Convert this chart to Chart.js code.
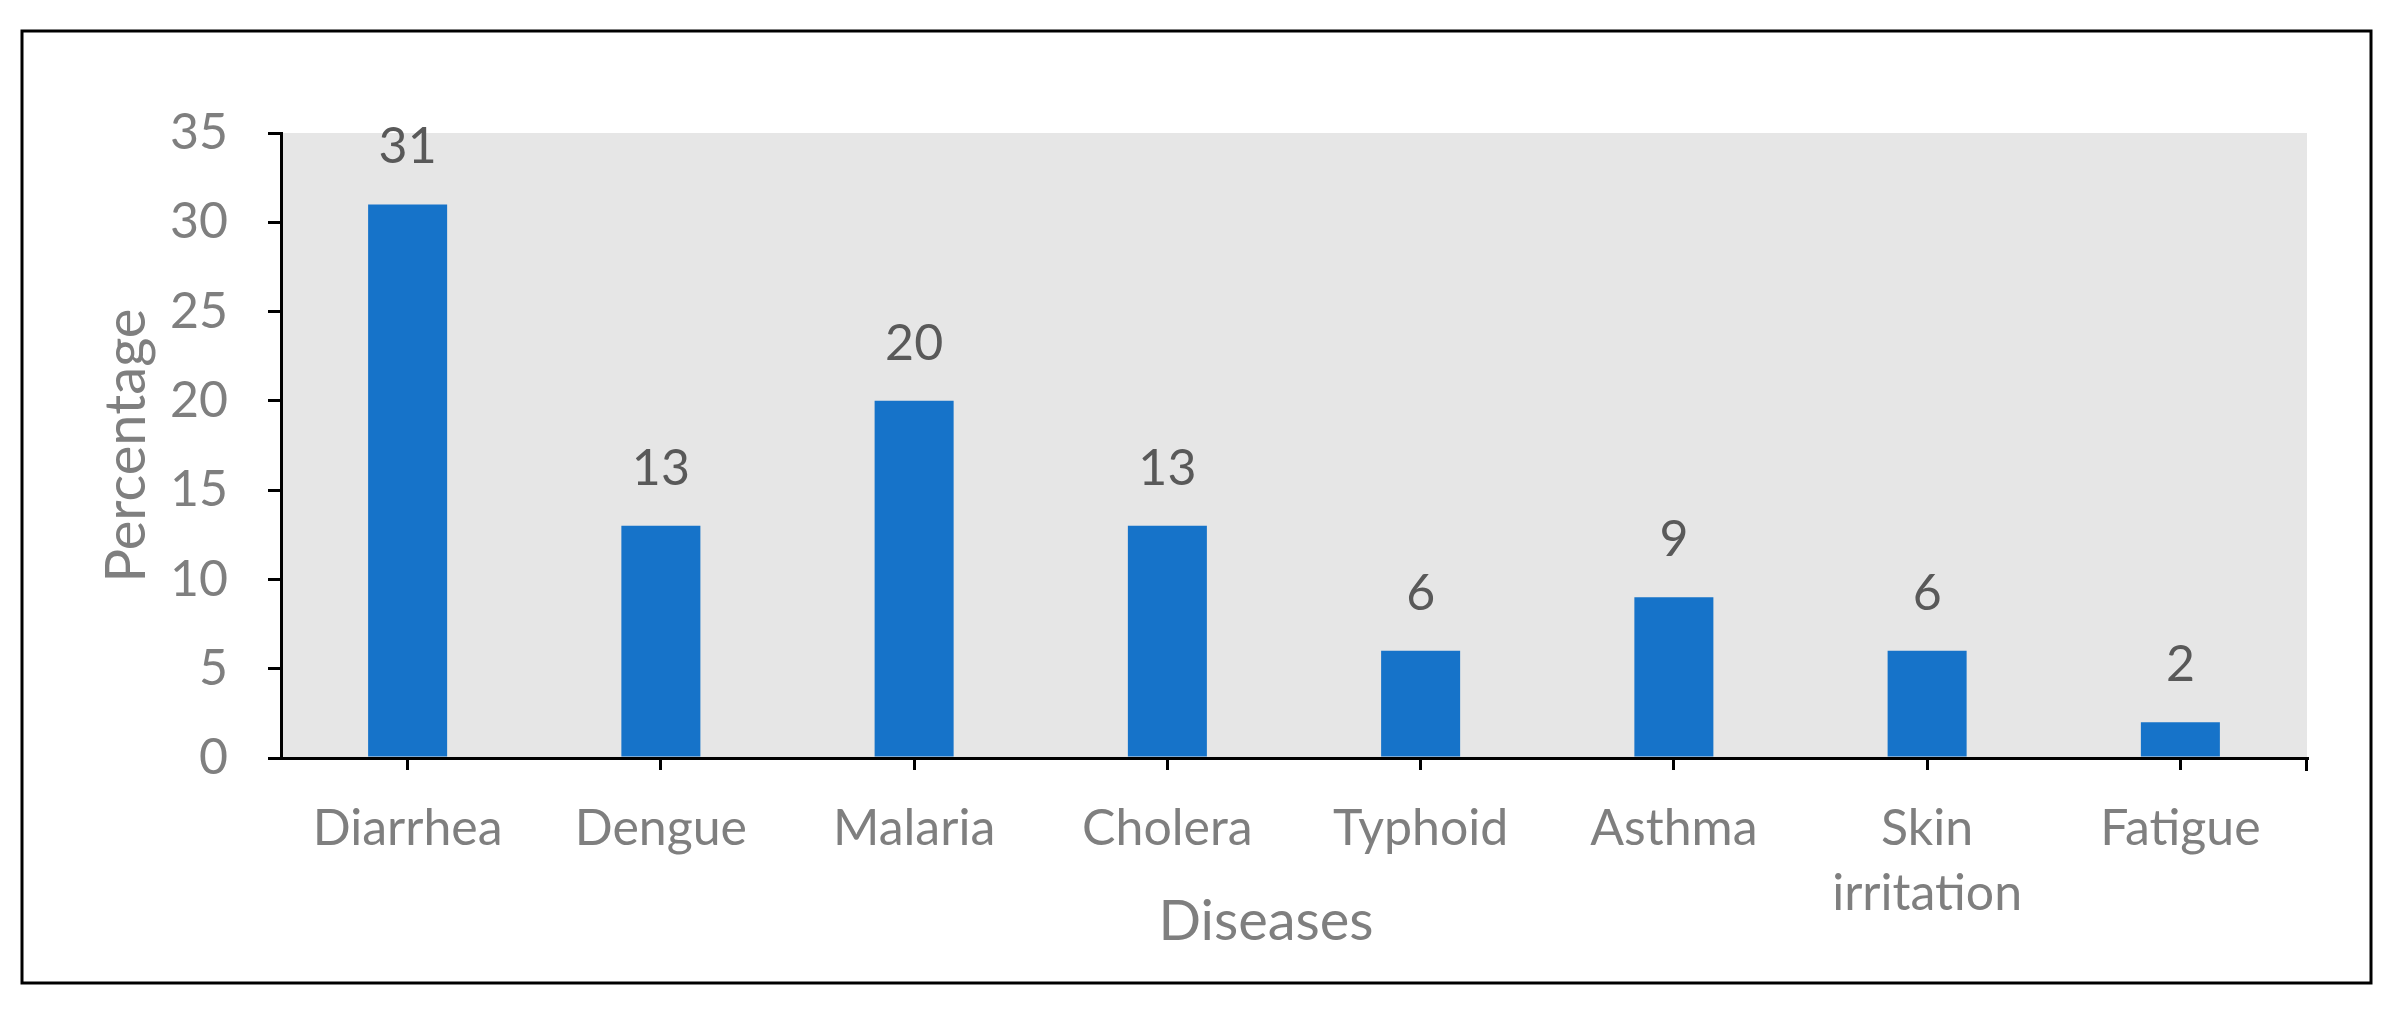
<!DOCTYPE html>
<html>
<head>
<meta charset="utf-8">
<script src="https://cdn.jsdelivr.net/npm/chart.js@4.4.1/dist/chart.umd.min.js"></script>
<style>
  html, body { margin: 0; padding: 0; background: #ffffff; }
  #wrap { width: 2399px; height: 1013px; position: relative; }
  canvas { display: block; }
</style>
</head>
<body>
<div id="wrap"><canvas id="c" width="2399" height="1013"></canvas></div>
<script>
const categories = ['Diarrhea', 'Dengue', 'Malaria', 'Cholera', 'Typhoid', 'Asthma', ['Skin', 'irritation'], 'Fatigue'];
const percentages = [31, 13, 20, 13, 6, 9, 6, 2];
const yTicks = [0, 5, 10, 15, 20, 25, 30, 35];
const xTitle = 'Diseases';
const yTitle = 'Percentage';

const FONT = 'Lato';
const TICK_GRAY = '#7f7f7f';
const LABEL_GRAY = '#595959';

const framePlugin = {
  id: 'frame',
  beforeDraw(chart) {
    const ctx = chart.ctx;
    const a = chart.chartArea;
    ctx.save();
    ctx.fillStyle = '#ffffff';
    ctx.fillRect(0, 0, chart.width, chart.height);
    ctx.strokeStyle = '#000000';
    ctx.lineWidth = 3;
    ctx.strokeRect(22, 31, 2349, 952);
    ctx.fillStyle = '#e6e6e6';
    ctx.fillRect(a.left, a.top, a.right - a.left, a.bottom - a.top);
    ctx.restore();
  },
  afterDraw(chart) {
    const ctx = chart.ctx;
    const xs = chart.scales.x;
    ctx.save();
    ctx.strokeStyle = '#000000';
    ctx.lineWidth = 3;
    ctx.beginPath();
    ctx.moveTo(xs.right - 0.5, xs.top);
    ctx.lineTo(xs.right - 0.5, xs.top + 13);
    ctx.stroke();
    // x-axis title (slightly left of the axis centre, as in the original)
    ctx.font = '56px ' + FONT;
    ctx.fillStyle = TICK_GRAY;
    ctx.textAlign = 'center';
    ctx.textBaseline = 'alphabetic';
    ctx.fillText(xTitle, (xs.left + xs.right) / 2 - 28, 940);
    ctx.restore();
  }
};

const valueLabels = {
  id: 'valueLabels',
  afterDatasetsDraw(chart) {
    const ctx = chart.ctx;
    const meta = chart.getDatasetMeta(0);
    ctx.save();
    ctx.font = '50px ' + FONT;
    ctx.fillStyle = LABEL_GRAY;
    ctx.textAlign = 'center';
    ctx.textBaseline = 'alphabetic';
    meta.data.forEach((bar, i) => {
      ctx.fillText(String(chart.data.datasets[0].data[i]), bar.x, bar.y - 41);
    });
    ctx.restore();
  }
};

function build() {
  new Chart(document.getElementById('c'), {
    type: 'bar',
    data: {
      labels: categories,
      datasets: [{
        data: percentages,
        backgroundColor: '#1673c9',
        borderWidth: 0,
        categoryPercentage: 1,
        barPercentage: 0.312
      }]
    },
    options: {
      responsive: false,
      animation: false,
      devicePixelRatio: 1,
      layout: { padding: { left: 60, right: 92, top: 133, bottom: 0 } },
      plugins: { legend: { display: false }, tooltip: { enabled: false } },
      scales: {
        x: {
          offset: true,
          grid: { display: true, offset: false, drawOnChartArea: false, drawTicks: true, tickLength: 12, color: '#000000', lineWidth: 3 },
          border: { display: true, color: '#000000', width: 3 },
          ticks: { color: TICK_GRAY, font: { family: FONT, size: 50, lineHeight: 1.3 }, padding: 26, maxRotation: 0, autoSkip: false },
          title: { display: false, text: xTitle },
          afterFit(s) { s.height = 255; }
        },
        y: {
          min: 0,
          max: 35,
          afterBuildTicks(s) { s.ticks = yTicks.map(v => ({ value: v })); },
          grid: { display: true, drawOnChartArea: false, drawTicks: true, tickLength: 13, color: '#000000', lineWidth: 3 },
          border: { display: true, color: '#000000', width: 3 },
          ticks: { color: TICK_GRAY, font: { family: FONT, size: 50 }, padding: 40 },
          title: { display: true, text: yTitle, color: TICK_GRAY, font: { family: FONT, size: 56 }, padding: { top: 33, bottom: 0 } },
          afterFit(s) { s.width = 221; }
        }
      }
    },
    plugins: [framePlugin, valueLabels]
  });
}

Promise.all([
  document.fonts.load('50px Lato'),
  document.fonts.load('56px Lato')
]).then(build, build);
</script>
</body>
</html>
